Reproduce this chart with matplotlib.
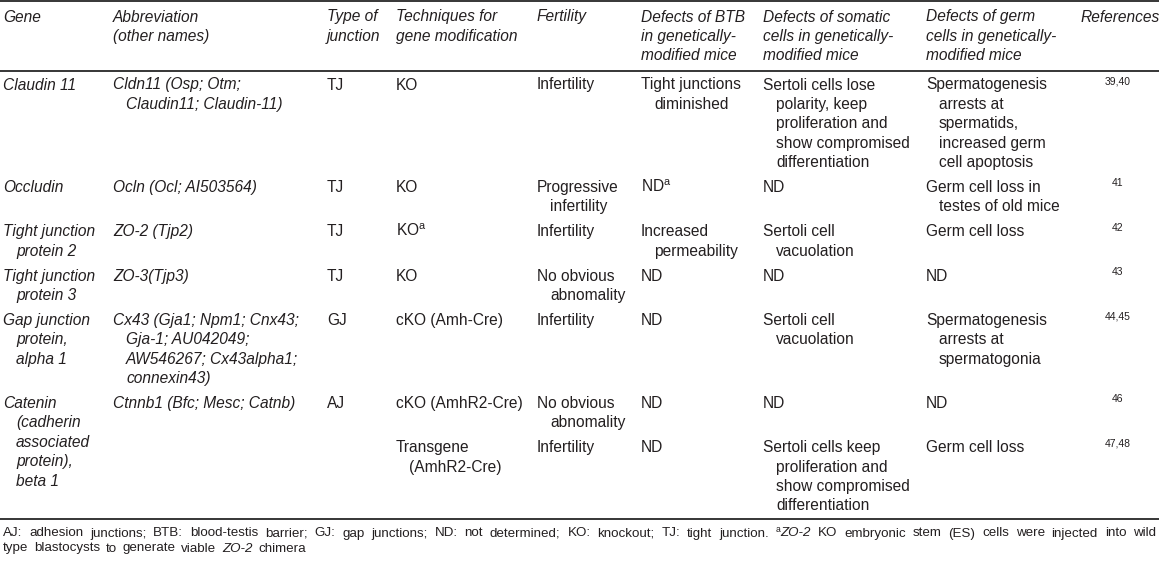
import re
import matplotlib
matplotlib.use('Agg')
import matplotlib.pyplot as plt

plt.rcParams['font.family'] = ['Liberation Sans', 'DejaVu Sans']
plt.rcParams['mathtext.fontset'] = 'custom'
plt.rcParams['mathtext.rm'] = 'Liberation Sans'
plt.rcParams['mathtext.it'] = 'Liberation Sans:italic'

# ---- table content ----
headers = [["Gene"],
           ["Abbreviation", "(other names)"],
           ["Type of", "junction"],
           ["Techniques for", "gene modification"],
           ["Fertility"],
           ["Defects of BTB", "in genetically-", "modified mice"],
           ["Defects of somatic", "cells in genetically-", "modified mice"],
           ["Defects of germ", "cells in genetically-", "modified mice"],
           ["References"]]

genes = [["Claudin 11"],
         ["Occludin"],
         ["Tight junction", "protein 2"],
         ["Tight junction", "protein 3"],
         ["Gap junction", "protein,", "alpha 1"],
         ["Catenin", "(cadherin", "associated", "protein),", "beta 1"]]

abbreviations = [["Cldn11 (Osp; Otm;", "Claudin11; Claudin-11)"],
                 ["Ocln (Ocl; AI503564)"],
                 ["ZO-2 (Tjp2)"],
                 ["ZO-3(Tjp3)"],
                 ["Cx43 (Gja1; Npm1; Cnx43;", "Gja-1; AU042049;",
                  "AW546267; Cx43alpha1;", "connexin43)"],
                 ["Ctnnb1 (Bfc; Mesc; Catnb)"]]

junctions = [["TJ"], ["TJ"], ["TJ"], ["TJ"], ["GJ"], ["AJ"]]

# technique rows belonging to each gene (catenin has two)
gene_rows = [[0], [1], [2], [3], [4], [5, 6]]

techniques = [["KO"], ["KO"], ["KO$^{\\mathrm{a}}$"], ["KO"],
              ["cKO (Amh-Cre)"], ["cKO (AmhR2-Cre)"],
              ["Transgene", "(AmhR2-Cre)"]]

fertility = [["Infertility"], ["Progressive", "infertility"], ["Infertility"],
             ["No obvious", "abnomality"], ["Infertility"],
             ["No obvious", "abnomality"], ["Infertility"]]

btb_defects = [["Tight junctions", "diminished"], ["ND$^{\\mathrm{a}}$"],
               ["Increased", "permeability"], ["ND"], ["ND"], ["ND"], ["ND"]]

somatic_defects = [["Sertoli cells lose", "polarity, keep", "proliferation and",
                    "show compromised", "differentiation"],
                   ["ND"],
                   ["Sertoli cell", "vacuolation"],
                   ["ND"],
                   ["Sertoli cell", "vacuolation"],
                   ["ND"],
                   ["Sertoli cells keep", "proliferation and",
                    "show compromised", "differentiation"]]

germ_defects = [["Spermatogenesis", "arrests at", "spermatids,",
                 "increased germ", "cell apoptosis"],
                ["Germ cell loss in", "testes of old mice"],
                ["Germ cell loss"],
                ["ND"],
                ["Spermatogenesis", "arrests at", "spermatogonia"],
                ["ND"],
                ["Germ cell loss"]]

references = ["39,40", "41", "42", "43", "44,45", "46", "47,48"]

# {..} = superscript, *..* = italic
footnote = ["AJ: adhesion junctions; BTB: blood-testis barrier; GJ: gap junctions; "
            "ND: not determined; KO: knockout; TJ: tight junction. {a}*ZO-2* KO "
            "embryonic stem (ES) cells were injected into wild",
            "type blastocysts to generate viable *ZO-2* chimera"]

# ---- layout ----
W, H = 1159, 564
col_x = [3, 113, 327, 396, 537, 641, 763, 926, 1081]
ref_x = 1118
line_h = 19.4
indent = 13
row_gap = 5.5
fs = 11.2
ink = '#231f20'

fig = plt.figure(figsize=(W / 100, H / 100), dpi=100)
ax = fig.add_axes([0, 0, 1, 1])
ax.set_xlim(0, W)
ax.set_ylim(H, 0)
ax.axis('off')


def draw_cell(x, y, lines, italic=False, hang=True):
    for i, s in enumerate(lines):
        dx = indent if (hang and i > 0) else 0
        ax.text(x + dx, y + i * line_h, s, fontsize=fs, color=ink,
                style='italic' if italic else 'normal', va='baseline')


# header
for x, lines in zip(col_x, headers):
    for i, s in enumerate(lines):
        ax.text(x, 21.5 + i * 19.5, s, fontsize=fs, color=ink,
                style='italic', va='baseline')

# rules
for yr in [0.8, 71, 518.5]:
    ax.axhline(yr, color='black', lw=1.1)

# body rows
sub_cols = [techniques, fertility, btb_defects, somatic_defects, germ_defects]
y = 89.5
row_y = []
for g, rows in enumerate(gene_rows):
    for k in rows:
        n = max(len(c[k]) for c in sub_cols)
        if len(rows) == 1:
            n = max(n, len(genes[g]), len(abbreviations[g]))
        row_y.append(y)
        y += n * line_h + row_gap

for g, rows in enumerate(gene_rows):
    y0 = row_y[rows[0]]
    draw_cell(col_x[0], y0, genes[g], italic=True)
    draw_cell(col_x[1], y0, abbreviations[g], italic=True)
    draw_cell(col_x[2], y0, junctions[g])

for k, yk in enumerate(row_y):
    for x, col in zip(col_x[3:8], sub_cols):
        draw_cell(x, yk, col[k])
    ax.text(ref_x, yk - 5.5, references[k], fontsize=7.5, color=ink,
            ha='center', va='baseline')

# footnote: first line justified, second line ends near x=306
renderer = fig.canvas.get_renderer()
foot_fs = 9.6


def make_word(word, yb):
    parts = re.findall(r'\{[^}]*\}|\*[^*]*\*|[^{*]+', word)
    items = []
    off = 0
    for p in parts:
        if p.startswith('{'):
            t = ax.text(0, yb - 4.5, p[1:-1], fontsize=foot_fs * 0.65, color=ink, va='baseline')
        elif p.startswith('*'):
            t = ax.text(0, yb, p[1:-1], fontsize=foot_fs, color=ink, style='italic', va='baseline')
        else:
            t = ax.text(0, yb, p, fontsize=foot_fs, color=ink, va='baseline')
        items.append((t, off))
        off += t.get_window_extent(renderer).width
    return items, off


line_ends = [1156, 306]
for li, line in enumerate(footnote):
    yb = 536.5 + li * 15
    words = [make_word(w, yb) for w in line.split(' ')]
    total = sum(w[1] for w in words)
    gap = max(3.5, (line_ends[li] - 3 - total) / (len(words) - 1))
    x = 3
    for items, wd in words:
        for t, off in items:
            t.set_x(x + off)
        x += wd + gap

fig.savefig('out.png', dpi=100)
